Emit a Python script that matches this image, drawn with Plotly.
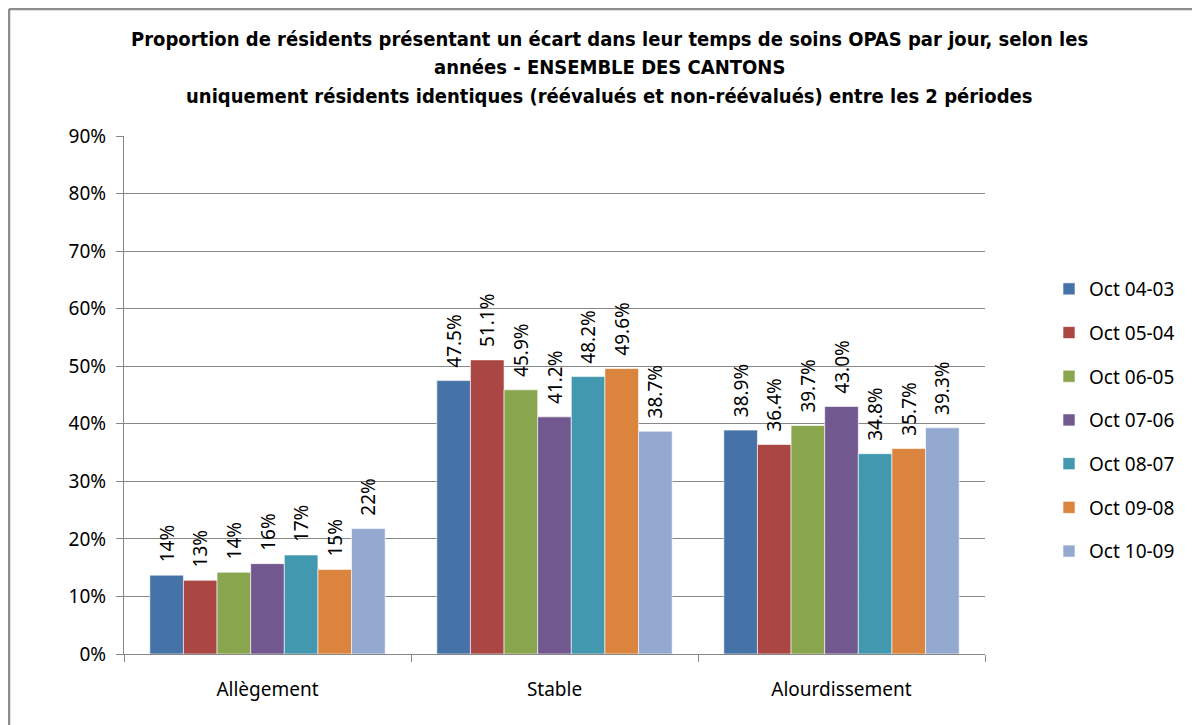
import plotly.graph_objects as go

categories = ["Allègement", "Stable", "Alourdissement"]
series_names = ["Oct 04-03", "Oct 05-04", "Oct 06-05", "Oct 07-06",
                "Oct 08-07", "Oct 09-08", "Oct 10-09"]
colors = ["#4572A7", "#AA4643", "#89A54E", "#71588F",
          "#4198AF", "#DB843D", "#93A9CF"]

oct_04_03 = [13.7, 47.5, 38.9]
oct_05_04 = [12.8, 51.1, 36.4]
oct_06_05 = [14.2, 45.9, 39.7]
oct_07_06 = [15.7, 41.2, 43.0]
oct_08_07 = [17.2, 48.2, 34.8]
oct_09_08 = [14.7, 49.6, 35.7]
oct_10_09 = [21.8, 38.7, 39.3]

# labels as printed on the chart (first group rounded to whole percent)
labels_04_03 = ["14%", "47.5%", "38.9%"]
labels_05_04 = ["13%", "51.1%", "36.4%"]
labels_06_05 = ["14%", "45.9%", "39.7%"]
labels_07_06 = ["16%", "41.2%", "43.0%"]
labels_08_07 = ["17%", "48.2%", "34.8%"]
labels_09_08 = ["15%", "49.6%", "35.7%"]
labels_10_09 = ["22%", "38.7%", "39.3%"]

values = [oct_04_03, oct_05_04, oct_06_05, oct_07_06, oct_08_07, oct_09_08, oct_10_09]
labels = [labels_04_03, labels_05_04, labels_06_05, labels_07_06,
          labels_08_07, labels_09_08, labels_10_09]

yticks = [0, 10, 20, 30, 40, 50, 60, 70, 80, 90]
ytick_text = [f"{v}%" for v in yticks]

title_lines = [
    "Proportion de résidents présentant un écart dans leur temps de soins OPAS par jour, selon les",
    "années - ENSEMBLE DES CANTONS",
    "uniquement résidents identiques (réévalués et non-réévalués) entre les 2 périodes",
]

font = "Noto Sans"
grey = "#878787"

fig = go.Figure()
for name, vals, txt, col in zip(series_names, values, labels, colors):
    fig.add_trace(go.Bar(
        x=categories, y=vals, name=name,
        text=["\u00a0\u00a0" + t for t in txt],
        textposition="outside", textangle=-90, cliponaxis=False,
        constraintext="none",
        textfont=dict(family=font, size=19, color="#000000"),
        marker=dict(color=col, line=dict(color="#FFFFFF", width=0.6)),
        legendgroup=name,
    ))

# page body has an 8px margin, so figure coords = screen coords - 8
W, H = 1192, 717
L, R, T, B = 116, 215, 128, 71
pw, ph = W - L - R, H - T - B

def px(x):
    return (x - L) / pw

def py(y):
    return (H - B - y) / ph

title_ann = []
for line, ty in zip(title_lines, [31, 59, 88]):
    title_ann.append(dict(
        text="<b>" + line + "</b>",
        xref="paper", yref="paper", x=px(601), y=py(ty),
        xanchor="center", yanchor="middle", showarrow=False,
        font=dict(family="DejaVu Sans Condensed", size=20, color="#000000"),
    ))

fig.update_layout(
    width=W, height=H,
    margin=dict(l=L, r=R, t=T, b=B),
    paper_bgcolor="white", plot_bgcolor="white",
    barmode="group", bargap=0.18, bargroupgap=0,
    font=dict(family=font, size=19, color="#000000"),
    showlegend=True,
    legend=dict(x=px(1041), y=py(262), xanchor="left", yanchor="top",
                font=dict(family=font, size=19), tracegroupgap=16,
                itemwidth=30),
    shapes=[
        dict(type="line", xref="paper", yref="paper",
             x0=px(1), x1=px(1200), y0=py(1), y1=py(1),
             line=dict(color="#8C8C8C", width=2.5)),
        dict(type="line", xref="paper", yref="paper",
             x0=px(1), x1=px(1), y0=py(1), y1=py(725),
             line=dict(color="#8C8C8C", width=2.5)),
    ],
    annotations=title_ann,
)

fig.update_yaxes(
    range=[0, 90], tickvals=yticks, ticktext=ytick_text,
    showgrid=True, gridcolor=grey, gridwidth=1.2,
    showline=True, linecolor=grey, linewidth=1.2,
    ticks="outside", ticklen=7, tickcolor=grey, ticklabelstandoff=6,
    tickfont=dict(family=font, size=19), zeroline=False,
)
fig.update_xaxes(
    showline=True, linecolor=grey, linewidth=1.2,
    ticks="outside", tickson="boundaries", ticklen=7, tickcolor=grey,
    ticklabelstandoff=18,
    tickfont=dict(family=font, size=19),
)

fig.write_html("out.html")
